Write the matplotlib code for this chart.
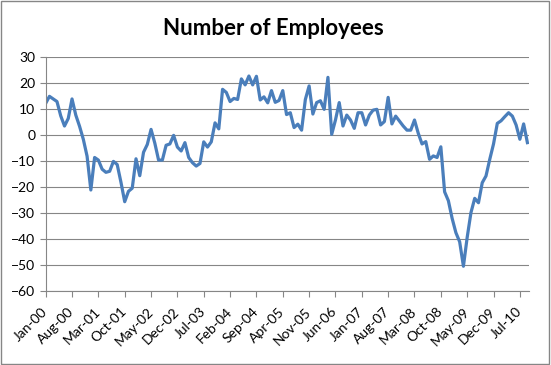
import numpy as np
import matplotlib
matplotlib.use("Agg")
import matplotlib.pyplot as plt
import matplotlib.transforms as mtransforms
from matplotlib.patches import Rectangle

plt.rcParams['font.family'] = ['Lato', 'DejaVu Sans']

# monthly values Jan-00 .. Sep-10
employees = [
    12.3, 15, 14, 13, 7.5, 3.6, 6.5, 14, 7.8, 3.5,
    -1.5, -8, -21, -8.5, -9.5, -13, -14.2, -13.8, -10, -11.2,
    -18, -25.5, -21.5, -20.3, -9, -15.5, -6.5, -3.5, 2.3, -3,
    -9.5, -9.5, -3.8, -3.3, 0, -4.5, -6, -2.8, -8.5, -10.5,
    -11.8, -10.8, -2.5, -4.5, -2.5, 4.8, 2.5, 17.7, 16.5, 13,
    14.2, 13.8, 21.7, 19.4, 22.8, 19.4, 22.7, 13.6, 14.8, 12.5,
    17.2, 12.7, 13.4, 17.2, 8, 8.7, 3, 4.3, 2, 13.8,
    19, 8.2, 12.6, 13.3, 10, 22.3, 0.4, 5.9, 12.6, 3.6,
    7.8, 5.9, 2.7, 8.7, 8.7, 4, 7.8, 9.7, 10, 4,
    5.3, 14.6, 4.4, 7.4, 5.5, 3.6, 2, 2, 5.9, 0.8,
    -3.3, -2.4, -9.2, -7.9, -8.5, -4.4, -21.7, -25.1, -31.9, -37.4,
    -40.9, -50.3, -39.2, -29.7, -24.2, -25.9, -18.2, -15.6, -9.2, -3.3,
    4.6, 5.6, 7.2, 8.7, 7.4, 4, -1.5, 4.4, -2.8,
]
tick_labels = ['Jan-00', 'Aug-00', 'Mar-01', 'Oct-01', 'May-02', 'Dec-02', 'Jul-03',
               'Feb-04', 'Sep-04', 'Apr-05', 'Nov-05', 'Jun-06', 'Jan-07', 'Aug-07',
               'Mar-08', 'Oct-08', 'May-09', 'Dec-09', 'Jul-10']
y_ticks = [-60, -50, -40, -30, -20, -10, 0, 10, 20, 30]

months = np.arange(len(employees))
grey = '#868686'

fig = plt.figure(figsize=(5.51, 3.65), dpi=100)
ax = fig.add_axes([0.0829, 0.2014, 0.877, 0.6416])

ax.plot(months, employees, color='#4A7EBB', lw=2.3, solid_joinstyle='round')

ax.set_xlim(0, 128.4)
ax.set_ylim(-60, 30)
ax.set_yticks(y_ticks)
ax.set_xticks(np.arange(len(tick_labels)) * 7)
ax.set_xticklabels(tick_labels, rotation=45, ha='right', va='center', rotation_mode='anchor')

# nudge the rotated labels a little to the right, like Excel does
shift = mtransforms.ScaledTranslation(4 / 100, -1 / 100, fig.dpi_scale_trans)
for lab in ax.get_xticklabels():
    lab.set_transform(lab.get_transform() + shift)

ax.grid(axis='y', color=grey, lw=0.8)
ax.set_axisbelow(True)
for side in ['top', 'right']:
    ax.spines[side].set_visible(False)
for side in ['left', 'bottom']:
    ax.spines[side].set_color(grey)
    ax.spines[side].set_linewidth(0.8)
ax.tick_params(axis='both', colors=grey, length=4, width=0.8, direction='out',
               labelcolor='black', labelsize=10)
ax.tick_params(axis='x', pad=9)

fig.text(0.497, 0.923, 'Number of Employees', ha='center', va='center',
         fontsize=16, fontweight='bold')

# chart area border
fig.patches.append(Rectangle((0.002, 0.003), 0.995, 0.993, transform=fig.transFigure,
                             fill=False, edgecolor=grey, lw=1))

fig.savefig('out.png', dpi=100)
